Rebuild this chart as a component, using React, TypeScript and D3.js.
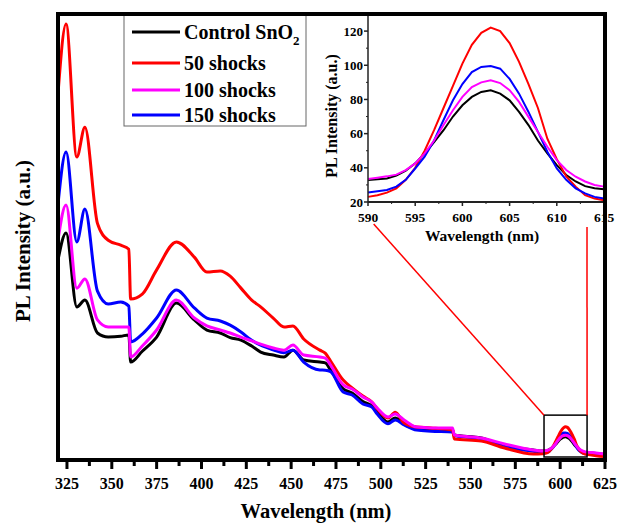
import React from "react";
import * as d3 from "d3";

// main spectrum sample points (nm), below the inset window
const mainWl = [320, 324.5, 330.5, 335, 342, 348, 355, 359.5, 360.5, 367, 375, 386, 396, 403, 410.5, 416, 422, 428, 433, 440, 446, 451, 457, 466, 469, 472, 479, 484, 490, 495, 498, 504, 508, 513, 520, 528, 540, 541, 556, 569, 585];
const controlMain = [735, 835, 563, 588, 467, 452, 455, 460, 360, 400, 452, 577, 515, 478, 467, 450, 441, 419, 397, 386, 379, 404, 368, 360, 357, 331, 262, 246, 215, 198, 176, 140, 154, 132, 114, 110, 110, 92, 81, 51, 37];
const shocks50Main = [1346, 1603, 1114, 1224, 870, 808, 790, 775, 592, 610, 699, 802, 746, 691, 695, 676, 632, 588, 563, 522, 489, 493, 445, 404, 393, 364, 294, 265, 235, 213, 188, 154, 176, 136, 121, 118, 110, 77, 70, 44, 22];
const shocks100Main = [809, 938, 632, 666, 515, 489, 489, 489, 379, 419, 478, 588, 522, 493, 478, 467, 452, 438, 426, 412, 404, 423, 386, 379, 375, 349, 276, 261, 232, 213, 191, 158, 169, 147, 121, 118, 118, 92, 81, 59, 37];
const shocks150Main = [941, 1133, 802, 923, 621, 574, 581, 566, 434, 463, 522, 625, 559, 522, 511, 496, 471, 440, 422, 405, 394, 404, 360, 331, 330, 325, 250, 239, 206, 195, 169, 133, 147, 129, 110, 106, 103, 90, 78, 48, 32];

// inset window 590-615 nm
const insetWl = [590, 591, 592, 593, 594, 595, 596, 597, 598, 599, 600, 601, 602, 603, 604, 605, 606, 607, 608, 609, 610, 611, 612, 613, 614, 615];
const controlInset = [32.8, 33.3, 33.8, 35.4, 38.3, 42.6, 48.4, 55, 62, 70, 76.6, 81.5, 84.4, 85.4, 83.4, 79.5, 72.7, 65, 56, 48.4, 41.6, 35.8, 32, 29.3, 28, 27.4];
const shocks50Inset = [23, 24, 25.5, 28, 33, 40, 50, 62, 75, 88, 101, 112, 119, 122, 120, 113, 102, 89, 75, 57, 45, 35, 29, 24, 22, 21];
const shocks100Inset = [33.4, 34.2, 35, 36, 38.7, 42.6, 48.4, 56, 65, 73.7, 81.5, 87.3, 90, 91.2, 89.6, 85.4, 78.6, 69.8, 61, 52.3, 44.5, 38.7, 34.8, 32, 30, 29];
const shocks150Inset = [25.6, 26.3, 27, 29, 33, 39.6, 46.5, 56, 68, 79.5, 89, 96, 99, 99.6, 98, 92, 83.4, 72.7, 61, 49.4, 39.6, 33, 28, 25, 23, 22];

// tail after the inset window
const tailWl = [620, 625];
const controlTail = [24, 20];
const shocks50Tail = [16, 13];
const shocks100Tail = [26, 22];
const shocks150Tail = [18, 15];

const seriesNames = ["Control SnO", "50 shocks", "100 shocks", "150 shocks"];
const seriesColors = ["#000000", "#ff0000", "#ff00ff", "#0000ff"];

const xTicks = [325, 350, 375, 400, 425, 450, 475, 500, 525, 550, 575, 600, 625];
const xMinor = [337.5, 362.5, 387.5, 412.5, 437.5, 462.5, 487.5, 512.5, 537.5, 562.5, 587.5, 612.5];
const insetXTicks = [590, 595, 600, 605, 610, 615];
const insetXMinor = [592.5, 597.5, 602.5, 607.5, 612.5];
const insetYTicks = [20, 40, 60, 80, 100, 120];
const insetYMinor = [30, 50, 70, 90, 110, 130];

const font = "'Liberation Serif', 'Times New Roman', serif";

const join = (a: number[], b: number[], c: number[]) => {
  const vals = [...a, ...b, ...c];
  const wls = [...mainWl, ...insetWl, ...tailWl];
  return wls.map((w, i) => [w, vals[i]] as [number, number]);
};

export default function App() {
  const left = 58, right = 605, top = 14, bottom = 460;
  const x = d3.scaleLinear().domain([320, 625]).range([left, right]);
  const y = d3.scaleLinear().domain([0, 1640]).range([bottom, top]);

  const iLeft = 368, iRight = 604, iBottom = 202;
  const ix = d3.scaleLinear().domain([590, 615]).range([iLeft, iRight]);
  const iy = d3.scaleLinear().domain([20, 130]).range([iBottom, top]);

  const mainData = [
    join(controlMain, controlInset, controlTail),
    join(shocks50Main, shocks50Inset, shocks50Tail),
    join(shocks100Main, shocks100Inset, shocks100Tail),
    join(shocks150Main, shocks150Inset, shocks150Tail),
  ];
  const insetData = [controlInset, shocks50Inset, shocks100Inset, shocks150Inset].map((s) =>
    insetWl.map((w, i) => [w, s[i]] as [number, number])
  );

  const line = d3.line<[number, number]>().x((d) => x(d[0])).y((d) => y(d[1])).curve(d3.curveMonotoneX);
  const iline = d3.line<[number, number]>().x((d) => ix(d[0])).y((d) => iy(d[1]));

  const drawOrder = [0, 3, 1, 2];
  const insetOrder = [0, 1, 3, 2];

  return (
    <svg width={620} height={523} style={{ position: "absolute", left: 0, top: 0, background: "#fff" }} fontFamily={font} fontWeight="bold">
      {/* main curves */}
      {drawOrder.map((k) => (
        <path key={k} d={line(mainData[k]) || ""} fill="none" stroke={seriesColors[k]} strokeWidth={3} strokeLinejoin="round" />
      ))}

      {/* zoom box and connectors */}
      <rect x={x(591)} y={y(165)} width={x(615) - x(591)} height={y(0) - y(165) - 3} fill="none" stroke="#000" strokeWidth={1.5} />
      <line x1={x(591)} y1={y(165)} x2={ix(590.6)} y2={iBottom + 22} stroke="#ff0000" strokeWidth={1.5} />
      <line x1={x(615)} y1={y(165)} x2={ix(613.2)} y2={iBottom + 25} stroke="#ff0000" strokeWidth={1.5} />

      {/* legend */}
      <rect x={124} y={top} width={182} height={112} fill="#fff" stroke="#666" strokeWidth={1} />
      {seriesNames.map((name, i) => {
        const ly = [32, 63, 90, 115][i];
        return (
          <g key={name}>
            <line x1={132} x2={180} y1={ly} y2={ly} stroke={seriesColors[i]} strokeWidth={3} />
            <text x={184} y={ly + 7} fontSize={20}>
              {name}
              {i === 0 && <tspan fontSize={13} dy={6}>2</tspan>}
            </text>
          </g>
        );
      })}

      {/* inset */}
      <rect x={iLeft} y={top} width={iRight - iLeft} height={iBottom - top} fill="#fff" />
      {insetOrder.map((k) => (
        <path key={k} d={iline(insetData[k]) || ""} fill="none" stroke={seriesColors[k]} strokeWidth={2} />
      ))}
      <line x1={iLeft} x2={iLeft} y1={top} y2={iBottom} stroke="#222" strokeWidth={1.5} />
      <line x1={iLeft} x2={iRight} y1={iBottom} y2={iBottom} stroke="#222" strokeWidth={2} />
      {insetYTicks.map((t) => (
        <g key={t}>
          <line x1={iLeft - 4} x2={iLeft} y1={iy(t)} y2={iy(t)} stroke="#222" strokeWidth={1.5} />
          <text x={iLeft - 5} y={iy(t)} dy="0.35em" textAnchor="end" fontSize={13}>{t}</text>
        </g>
      ))}
      {insetYMinor.map((t) => (
        <line key={t} x1={iLeft - 2} x2={iLeft} y1={iy(t)} y2={iy(t)} stroke="#222" strokeWidth={1} />
      ))}
      {insetXTicks.map((t) => (
        <g key={t}>
          <line x1={ix(t)} x2={ix(t)} y1={iBottom} y2={iBottom + 4} stroke="#222" strokeWidth={1.5} />
          <text x={ix(t)} y={iBottom + 20} textAnchor="middle" fontSize={13.5}>{t}</text>
        </g>
      ))}
      {insetXMinor.map((t) => (
        <line key={t} x1={ix(t)} x2={ix(t)} y1={iBottom} y2={iBottom + 2} stroke="#222" strokeWidth={1} />
      ))}
      <text x={482} y={241} textAnchor="middle" fontSize={15.5}>Wavelength (nm)</text>
      <text transform={`translate(337,${(top + iBottom) / 2 + 8}) rotate(-90)`} textAnchor="middle" fontSize={16}>
        PL Intensity (a.u.)
      </text>

      {/* main frame and axis */}
      <rect x={left} y={top} width={right - left} height={bottom - top} fill="none" stroke="#000" strokeWidth={4} />
      {xTicks.map((t) => (
        <g key={t}>
          <line x1={x(t)} x2={x(t)} y1={bottom} y2={bottom + 9} stroke="#000" strokeWidth={3} />
          <text x={x(t)} y={489} textAnchor="middle" fontSize={16}>{t}</text>
        </g>
      ))}
      {xMinor.map((t) => (
        <line key={t} x1={x(t)} x2={x(t)} y1={bottom} y2={bottom + 6} stroke="#000" strokeWidth={3} />
      ))}
      <text x={316} y={518} textAnchor="middle" fontSize={20.5}>Wavelength (nm)</text>
      <text transform="translate(30,241) rotate(-90)" textAnchor="middle" fontSize={21}>PL Intensity (a.u.)</text>
    </svg>
  );
}
